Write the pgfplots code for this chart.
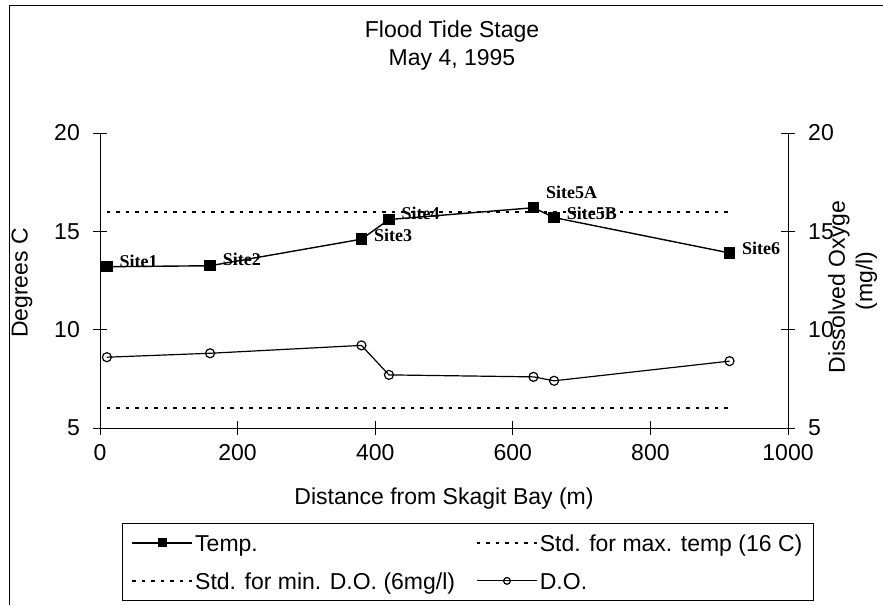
\documentclass[border=0pt]{standalone}
\usepackage{fontspec}
\setmainfont{Liberation Sans}
\newfontfamily\sitefont{Liberation Serif}
\usepackage{pgfplots}
\pgfplotsset{compat=1.18}
\usepackage{pgfplotstable}

\pgfplotstableread{
x y label dy
10 13.2 Site1 5
160 13.25 Site2 6
380 14.6 Site3 4
420 15.6 Site4 6
630 16.2 Site5A 15
660 15.7 Site5B 4
915 13.9 Site6 5
}\temptable

\pgfplotstableread{
x y
10 8.6
160 8.8
380 9.2
420 7.7
630 7.6
660 7.4
915 8.4
}\dotable

\newcommand{\bigfont}{\fontsize{23}{27}\selectfont}

\begin{document}
\begin{tikzpicture}
\useasboundingbox (0,0) rectangle (883pt,605pt);
\pgfplotsset{
  common/.style={
    at={(100pt,177pt)}, anchor=south west,
    scale only axis, width=688pt, height=295pt,
    xmin=0, xmax=1000, ymin=5, ymax=20,
    ytick={5,10,15,20},
    tick align=center, major tick length=14pt,
    tick style={black, line width=0.8pt},
    axis line style={line width=0.8pt, -},
    /pgf/number format/assume math mode=true,
    /pgf/number format/1000 sep={},
    ticklabel style={font=\bigfont, inner sep=0pt},
    label style={font=\bigfont},
  }
}
\begin{axis}[common,
  axis x line*=bottom, axis y line*=left,
  xtick={0,200,...,1000},
  yticklabel style={anchor=east, xshift=-13pt},
  xticklabel style={anchor=north, yshift=-9pt},
  xlabel={Distance from Skagit Bay (m)},
  xlabel style={at={(axis description cs:0.5,-0.24)}, anchor=center},
  ylabel={Degrees C},
  ylabel style={at={(axis description cs:-0.1134,0.4915)}, anchor=center, rotate=0},
  legend columns=2,
  legend cell align=left,
  legend style={at={(axis description cs:0.032,-0.322)}, anchor=north west,
    draw=black, line width=0.8pt, font=\bigfont, inner xsep=9pt, inner ysep=6pt,
    row sep=11pt,
    nodes={text height=22pt, text depth=5pt, inner ysep=0pt},
    /tikz/every even column/.append style={column sep=19pt}},
  legend image code/.code={\draw[mark repeat=2,mark phase=2,#1,every mark/.append style={scale=0.75}]
    plot coordinates {(0pt,0pt) (30pt,0pt) (60pt,0pt)};},
]
\addplot[black, line width=1.4pt, mark=square*, mark size=5pt,
  mark options={solid},
  nodes near coords, point meta=explicit symbolic,
  visualization depends on={\thisrow{dy} \as \labeldy},
  every node near coord/.append style={anchor=west, xshift=12pt, yshift=\labeldy,
    inner sep=0pt, font=\sitefont\bfseries\fontsize{18}{18}\selectfont}]
  table[x=x, y=y, meta=label]{\temptable};
\addlegendentry{Temp.}
\addplot[black, line width=1.8pt, dash pattern=on 3.5pt off 6pt] coordinates {(10,16) (915,16)};
\addlegendentry{Std. for max. temp (16 C)}
\addplot[black, line width=1.8pt, dash pattern=on 3.5pt off 6pt] coordinates {(10,6) (915,6)};
\addlegendentry{Std. for min. D.O. (6mg/l)}
\addplot[black, line width=1.2pt, mark=o, mark size=4.5pt, mark options={solid, line width=1.2pt}]
  table[x=x, y=y]{\dotable};
\addlegendentry{D.O.}
\end{axis}
\begin{axis}[common,
  axis y line*=right, axis x line=none,
  yticklabel style={anchor=west, xshift=13pt},
]
\end{axis}
\draw[line width=0.8pt] (9pt,0pt) -- (9pt,600pt) -- (883pt,600pt);
\node[font=\bigfont] at (452pt,573pt) {Flood Tide Stage};
\node[font=\bigfont] at (452pt,545pt) {May 4, 1995};
\node[font=\bigfont, rotate=90] at (839pt,318pt) {Dissolved Oxyge};
\node[font=\bigfont, rotate=90] at (866.5pt,324pt) {(mg/l)};
\end{tikzpicture}
\end{document}
